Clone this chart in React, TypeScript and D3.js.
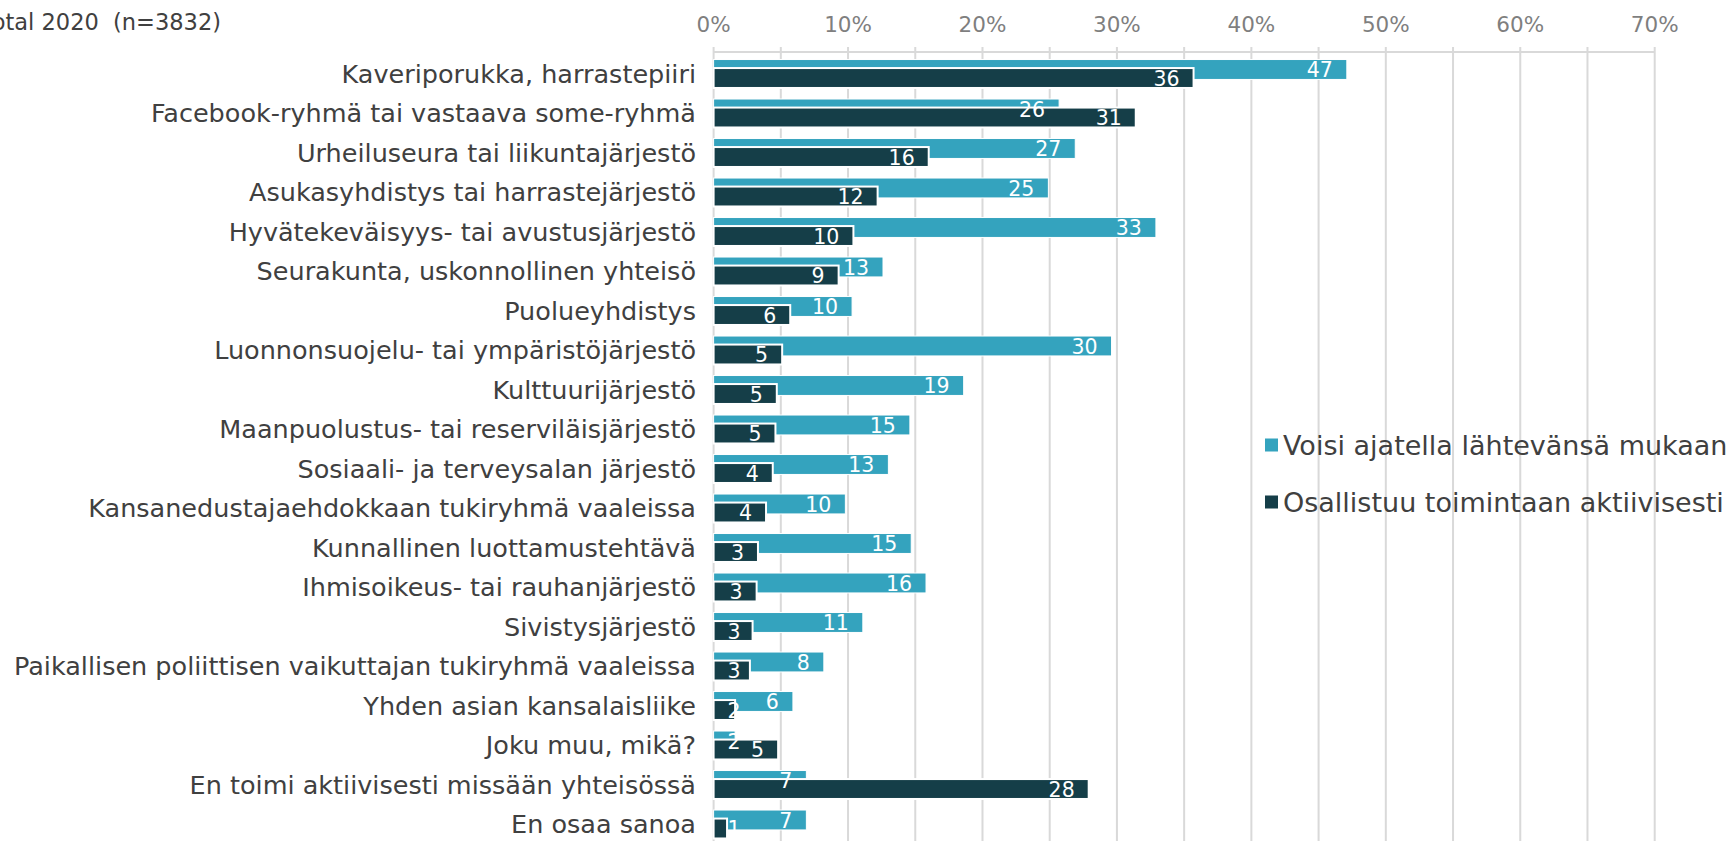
import React, { useEffect, useRef } from 'react';
import * as d3 from 'd3';

const title = 'Total 2020  (n=3832)';

const categories = [
  'Kaveriporukka, harrastepiiri',
  'Facebook-ryhmä tai vastaava some-ryhmä',
  'Urheiluseura tai liikuntajärjestö',
  'Asukasyhdistys tai harrastejärjestö',
  'Hyvätekeväisyys- tai avustusjärjestö',
  'Seurakunta, uskonnollinen yhteisö',
  'Puolueyhdistys',
  'Luonnonsuojelu- tai ympäristöjärjestö',
  'Kulttuurijärjestö',
  'Maanpuolustus- tai reserviläisjärjestö',
  'Sosiaali- ja terveysalan järjestö',
  'Kansanedustajaehdokkaan tukiryhmä vaaleissa',
  'Kunnallinen luottamustehtävä',
  'Ihmisoikeus- tai rauhanjärjestö',
  'Sivistysjärjestö',
  'Paikallisen poliittisen vaikuttajan tukiryhmä vaaleissa',
  'Yhden asian kansalaisliike',
  'Joku muu, mikä?',
  'En toimi aktiivisesti missään yhteisössä',
  'En osaa sanoa',
];

const seriesNames = ['Voisi ajatella lähtevänsä mukaan', 'Osallistuu toimintaan aktiivisesti'];

// % of respondents
const voisiValues = [47.1, 25.7, 26.9, 24.9, 32.9, 12.6, 10.3, 29.6, 18.6, 14.6, 13.0, 9.8, 14.7, 15.8, 11.1, 8.2, 5.9, 1.6, 6.9, 6.9];
const osallistuuValues = [35.7, 31.4, 16.0, 12.2, 10.4, 9.3, 5.7, 5.1, 4.7, 4.6, 4.4, 3.9, 3.3, 3.2, 2.9, 2.7, 1.6, 4.8, 27.9, 1.0];

const xTickLabels = [0, 10, 20, 30, 40, 50, 60, 70];
const gridTicks = [0, 5, 10, 15, 20, 25, 30, 35, 40, 45, 50, 55, 60, 65, 70];

const colors = ['#34a3be', '#153e48'];

const App: React.FC = () => {
  const svgRef = useRef<SVGSVGElement | null>(null);

  useEffect(() => {
    const svg = d3.select(svgRef.current);
    svg.selectAll('*').remove();
    const width = 1732;
    const height = 841;
    const font = '"DejaVu Sans", Verdana, sans-serif';

    svg.attr('width', width).attr('height', height);

    const x = d3.scaleLinear().domain([0, 70]).range([713.6, 1654.7]);
    const y = d3.scaleBand()
      .domain(categories)
      .range([54, 844])
      .paddingInner(0.28)
      .paddingOuter(0.14);

    const bw = y.bandwidth();
    const barH = bw * 0.7;

    // Grid lines + top axis
    svg.append('g')
      .selectAll('line')
      .data(gridTicks)
      .enter()
      .append('line')
      .attr('x1', d => x(d))
      .attr('x2', d => x(d))
      .attr('y1', 47)
      .attr('y2', height)
      .attr('stroke', '#d9d9d9')
      .attr('stroke-width', 2);

    svg.append('line')
      .attr('x1', x(0))
      .attr('x2', x(70))
      .attr('y1', 52)
      .attr('y2', 52)
      .attr('stroke', '#d9d9d9')
      .attr('stroke-width', 2);

    svg.append('g')
      .selectAll('text')
      .data(xTickLabels)
      .enter()
      .append('text')
      .attr('x', d => x(d))
      .attr('y', 31.5)
      .attr('text-anchor', 'middle')
      .attr('font-family', font)
      .attr('font-size', 21.5)
      .attr('fill', '#7f7f7f')
      .text(d => `${d}%`);

    // Title (cut at the left edge as in the source)
    svg.append('text')
      .attr('x', 221)
      .attr('y', 30)
      .attr('text-anchor', 'end')
      .attr('font-family', font)
      .attr('font-size', 22.5)
      .attr('fill', '#404040')
      .style('white-space', 'pre')
      .text(title);

    // Category labels
    svg.append('g')
      .selectAll('text')
      .data(categories)
      .enter()
      .append('text')
      .attr('x', 696)
      .attr('y', d => (y(d) as number) + bw / 2)
      .attr('dy', '0.36em')
      .attr('text-anchor', 'end')
      .attr('font-family', font)
      .attr('font-size', 25.5)
      .attr('fill', '#404040')
      .text(d => d);

    const series = [voisiValues, osallistuuValues];
    const offsets = [0, bw - barH];

    // Bars
    series.forEach((vals, s) => {
      svg.append('g')
        .selectAll('rect')
        .data(vals)
        .enter()
        .append('rect')
        .attr('x', x(0))
        .attr('y', (d, i) => (y(categories[i]) as number) + offsets[s])
        .attr('width', d => x(d) - x(0))
        .attr('height', barH)
        .attr('fill', colors[s])
        .attr('stroke', '#ffffff')
        .attr('stroke-width', s === 0 ? 1 : 2);
    });

    // Data labels (inside end)
    const labelSize = 20.5;
    series.forEach((vals, s) => {
      svg.append('g')
        .selectAll('text')
        .data(vals)
        .enter()
        .append('text')
        .attr('x', d => {
          const txt = String(Math.round(d));
          const tw = txt.length * 0.636 * labelSize;
          const endX = x(d) - 14;
          return endX - tw < x(0) + 14 ? x(0) + 14 + tw : endX;
        })
        .attr('y', (d, i) => (y(categories[i]) as number) + offsets[s] + barH / 2)
        .attr('dy', '0.38em')
        .attr('text-anchor', 'end')
        .attr('font-family', font)
        .attr('font-size', labelSize)
        .attr('fill', '#ffffff')
        .text(d => Math.round(d));
    });

    // Legend
    const legend = svg.append('g');
    seriesNames.forEach((name, s) => {
      const ly = 445 + s * 57;
      legend.append('rect')
        .attr('x', 1265)
        .attr('y', ly - 6.5)
        .attr('width', 13)
        .attr('height', 13)
        .attr('fill', colors[s]);
      legend.append('text')
        .attr('x', 1283)
        .attr('y', ly)
        .attr('dy', '0.36em')
        .attr('font-family', font)
        .attr('font-size', 27)
        .attr('fill', '#404040')
        .text(name);
    });
  }, []);

  return (
    <svg ref={svgRef} style={{ position: 'absolute', left: 0, top: 0, display: 'block' }}></svg>
  );
};

export default App;
